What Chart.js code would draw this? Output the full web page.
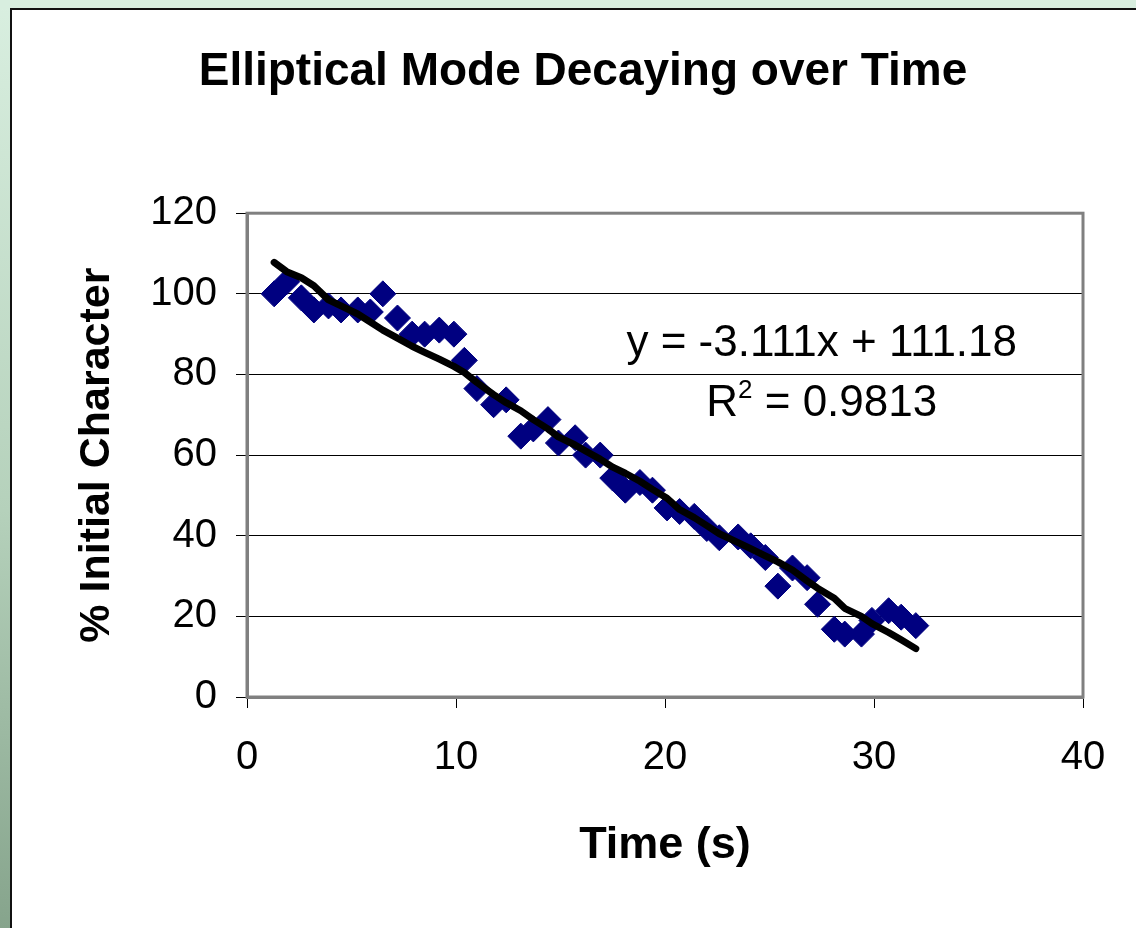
<!DOCTYPE html>
<html>
<head>
<meta charset="utf-8">
<script src="https://cdn.jsdelivr.net/npm/chart.js@4/dist/chart.umd.min.js"></script>
<style>
  html, body { margin: 0; padding: 0; }
  body {
    width: 1136px; height: 928px; overflow: hidden;
    background: linear-gradient(to bottom, #d9efe0 0%, #b5d1bb 55%, #86a48c 100%);
  }
  .top-strip { position: absolute; left: 0; top: 0; width: 1136px; height: 9px; background: #d8eedf; }
  .panel {
    position: absolute; left: 10px; top: 8px; width: 1126px; height: 920px;
    background: #fff; border-left: 2px solid #111; border-top: 2px solid #111;
  }
  .panel canvas { display: block; }
</style>
</head>
<body>
<div class="top-strip"></div>
<div class="panel"><canvas id="chart" width="1124" height="918"></canvas></div>
<script>
// measured points (time in s, % of initial character)
const timeS = [1.3, 1.9, 2.6, 3.2, 3.9, 4.5, 5.3, 5.9, 6.5, 7.2, 7.9, 8.5, 9.2, 9.9, 10.4, 11.0,
  11.8, 12.4, 13.1, 13.7, 14.4, 14.9, 15.7, 16.2, 16.9, 17.5, 18.1, 18.8, 19.4, 20.1, 20.7, 21.4,
  22.0, 22.6, 23.5, 24.1, 24.8, 25.4, 26.1, 26.8, 27.3, 28.1, 28.6, 29.4, 29.9, 30.7, 31.3, 32.0];
const pctInitial = [100, 103, 99, 96, 97, 96, 96, 95.5, 100, 94, 90, 90, 91, 90, 83.5, 76.5,
  72.5, 73.7, 64.7, 66.5, 68.8, 63, 64.3, 60, 60, 54.3, 51.3, 53.2, 51.3, 46.9, 46, 44.8,
  41.8, 39.5, 39.7, 37.5, 34.6, 27.5, 32, 29.6, 23, 16.8, 15.6, 15.6, 19, 21.4, 19.8, 17.7];

// black fitted curve as drawn
const trendY = [107.8, 105.5, 104, 102, 98.5, 97, 95, 93, 91, 89, 87, 85.5, 83.8, 82, 80.5, 78,
  75, 73, 71, 68.8, 66.5, 64.5, 62.5, 61, 59, 57, 55.5, 53.5, 51.5, 49.3, 46.5, 44.5,
  42.5, 40.5, 38.3, 36.8, 35, 33.5, 31.5, 28.8, 27, 24.5, 22, 20, 18.2, 16, 14.2, 12];

const xTicks = [0, 10, 20, 30, 40];
const yTicks = [0, 20, 40, 60, 80, 100, 120];

const FONT = "'Liberation Sans', Arial, sans-serif";

const scatterData = timeS.map((t, i) => ({ x: t, y: pctInitial[i] }));
const trendData = timeS.map((t, i) => ({ x: t, y: trendY[i] }));

// equation text, placed in data units
const eqnLabel = { text: 'y = -3.111x + 111.18', x: 27.5, y: 87.6 };
const r2Label = { base: 'R', sup: '2', rest: ' = 0.9813', x: 27.5, y: 72.6 };

const plotFrame = {
  id: 'plotFrame',
  beforeDatasetsDraw(chart) {
    const { ctx, chartArea: a } = chart;
    ctx.save();
    ctx.strokeStyle = '#808080';
    ctx.lineWidth = 3;
    ctx.strokeRect(a.left, a.top, a.right - a.left, a.bottom - a.top);
    ctx.restore();
  },
  afterDraw(chart) {
    const { ctx, scales: { x, y } } = chart;
    const mainFont = '44px ' + FONT;
    const supFont = '26px ' + FONT;
    ctx.save();
    ctx.fillStyle = '#000';
    ctx.textBaseline = 'middle';
    ctx.textAlign = 'center';
    ctx.font = mainFont;
    ctx.fillText(eqnLabel.text, x.getPixelForValue(eqnLabel.x), y.getPixelForValue(eqnLabel.y));

    // R² with a small raised 2
    const cx = x.getPixelForValue(r2Label.x);
    const cy = y.getPixelForValue(r2Label.y);
    const wR = ctx.measureText(r2Label.base).width;
    const wRest = ctx.measureText(r2Label.rest).width;
    ctx.font = supFont;
    const wSup = ctx.measureText(r2Label.sup).width;
    const left = cx - (wR + wSup + wRest) / 2;
    ctx.textAlign = 'left';
    ctx.font = mainFont;
    ctx.fillText(r2Label.base, left, cy);
    ctx.font = supFont;
    ctx.fillText(r2Label.sup, left + wR, cy - 13);
    ctx.font = mainFont;
    ctx.fillText(r2Label.rest, left + wR + wSup, cy);
    ctx.restore();
  }
};

new Chart(document.getElementById('chart'), {
  type: 'scatter',
  data: {
    datasets: [
      {
        label: 'Fit',
        type: 'line',
        data: trendData,
        order: 0,
        borderColor: '#000',
        borderWidth: 7,
        borderCapStyle: 'round',
        borderJoinStyle: 'round',
        pointRadius: 0,
        fill: false,
        tension: 0
      },
      {
        label: '% Initial Character',
        data: scatterData,
        order: 1,
        pointStyle: 'rectRot',
        pointRadius: 13,
        backgroundColor: '#000080',
        borderColor: '#000080',
        borderWidth: 1
      }
    ]
  },
  options: {
    responsive: false,
    animation: false,
    devicePixelRatio: 1,
    // left padding shifts the title centre to match; the y scale is narrowed to compensate
    layout: { padding: { left: 71, right: 53, top: 0, bottom: 0 } },
    plugins: {
      legend: { display: false },
      tooltip: { enabled: false },
      title: {
        display: true,
        text: 'Elliptical Mode Decaying over Time',
        color: '#000',
        font: { family: FONT, size: 46, weight: 'bold', lineHeight: 1.2 },
        padding: { top: 35, bottom: 113 }
      }
    },
    scales: {
      x: {
        type: 'linear',
        min: 0, max: 40,
        afterFit(scale) { scale.height = 231; },
        afterBuildTicks(scale) { scale.ticks = xTicks.map(v => ({ value: v })); },
        border: { display: true, color: '#808080', width: 3 },
        grid: { drawOnChartArea: false, drawTicks: true, tickLength: 11, tickColor: '#000', tickWidth: 1 },
        ticks: { color: '#000', padding: 26, font: { family: FONT, size: 40 } },
        title: {
          display: true,
          text: 'Time (s)',
          color: '#000',
          font: { family: FONT, size: 45, weight: 'bold', lineHeight: 1.2 },
          padding: { top: 0, bottom: 55 }
        }
      },
      y: {
        type: 'linear',
        min: 0, max: 120,
        afterFit(scale) { scale.width = 164; },
        afterBuildTicks(scale) { scale.ticks = yTicks.map(v => ({ value: v })); },
        border: { display: true, color: '#808080', width: 3 },
        grid: { color: '#000', lineWidth: 1, drawTicks: true, tickLength: 11, tickColor: '#000' },
        ticks: { color: '#000', padding: 19, font: { family: FONT, size: 40 } },
        title: {
          display: true,
          text: '% Initial Character',
          color: '#000',
          font: { family: FONT, size: 43, weight: 'bold', lineHeight: 0.5 },
          padding: { top: 3, bottom: 0 }
        }
      }
    }
  },
  plugins: [plotFrame]
});
</script>
</body>
</html>
